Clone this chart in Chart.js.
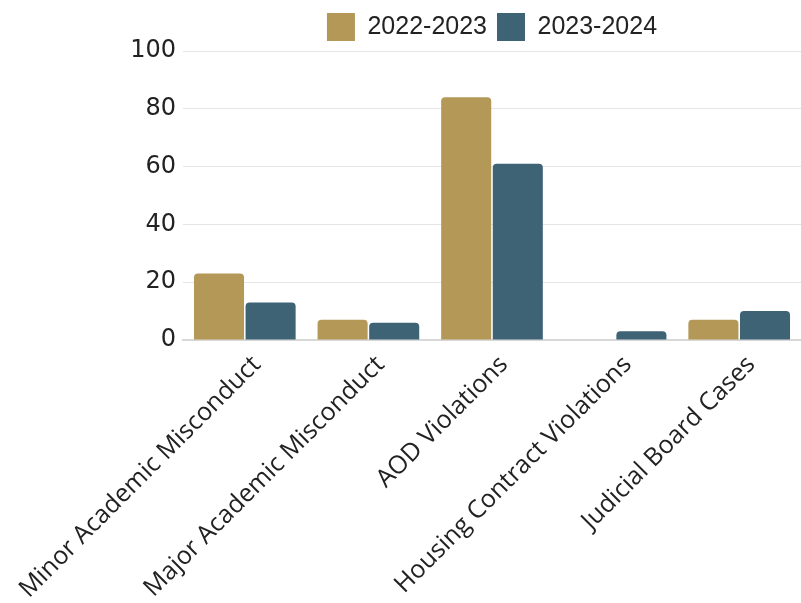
<!DOCTYPE html>
<html>
<head>
<meta charset="utf-8">
<script src="https://cdn.jsdelivr.net/npm/chart.js@4"></script>
<style>
  html, body { margin: 0; padding: 0; background: #ffffff; overflow: hidden; }
  canvas { display: block; }
</style>
</head>
<body>
<canvas id="c" width="801" height="603"></canvas>
<script>
// Conduct case counts by category, two academic years
const categories = [
  "Minor Academic Misconduct",
  "Major Academic Misconduct",
  "AOD Violations",
  "Housing Contract Violations",
  "Judicial Board Cases"
];
const seriesNames = ["2022-2023", "2023-2024"];
const values2022 = [23, 7, 84, 0, 7];
const values2023 = [13, 6, 61, 3, 10];
const yTicks = [0, 20, 40, 60, 80, 100];

const GOLD = "#b49857";
const TEAL = "#3e6375";

new Chart(document.getElementById("c"), {
  type: "bar",
  data: {
    labels: categories,
    datasets: [
      { label: seriesNames[0], data: values2022, backgroundColor: GOLD,
        borderRadius: { topLeft: 4, topRight: 4 }, borderSkipped: "start",
        categoryPercentage: 0.835, barPercentage: 0.97 },
      { label: seriesNames[1], data: values2023, backgroundColor: TEAL,
        borderRadius: { topLeft: 4, topRight: 4 }, borderSkipped: "start",
        categoryPercentage: 0.835, barPercentage: 0.97 }
    ]
  },
  options: {
    responsive: false,
    animation: false,
    layout: { padding: { left: 120, right: 0, top: 3, bottom: 0 } },
    plugins: {
      legend: {
        position: "top",
        fullSize: false,
        labels: {
          boxWidth: 28, boxHeight: 28, padding: 10,
          color: "#222222",
          font: { family: "'Liberation Sans', Arial, sans-serif", size: 25 }
        }
      },
      tooltip: { enabled: false }
    },
    scales: {
      x: {
        afterFit: (scale) => {
          scale.height = 263;
          // rotated labels may run past the left edge; keep the plot width fixed
          scale.paddingLeft = 0;
          scale.paddingRight = 0;
        },
        grid: { display: false },
        border: { display: true, color: "#d8d8d8", width: 2 },
        ticks: {
          minRotation: 45, maxRotation: 45, padding: 2, labelOffset: 12,
          color: "#222222",
          font: { family: "'Open Sans', sans-serif", size: 25 }
        }
      },
      y: {
        min: 0, max: 100,
        afterBuildTicks: (scale) => { scale.ticks = yTicks.map(v => ({ value: v })); },
        afterFit: (scale) => { scale.width = 63; },
        grid: { color: "#e6e6e6", lineWidth: 1, drawTicks: false },
        border: { display: false },
        ticks: {
          padding: 7,
          color: "#222222",
          font: { family: "'DejaVu Sans', sans-serif", size: 24 }
        }
      }
    }
  }
});
</script>
</body>
</html>
